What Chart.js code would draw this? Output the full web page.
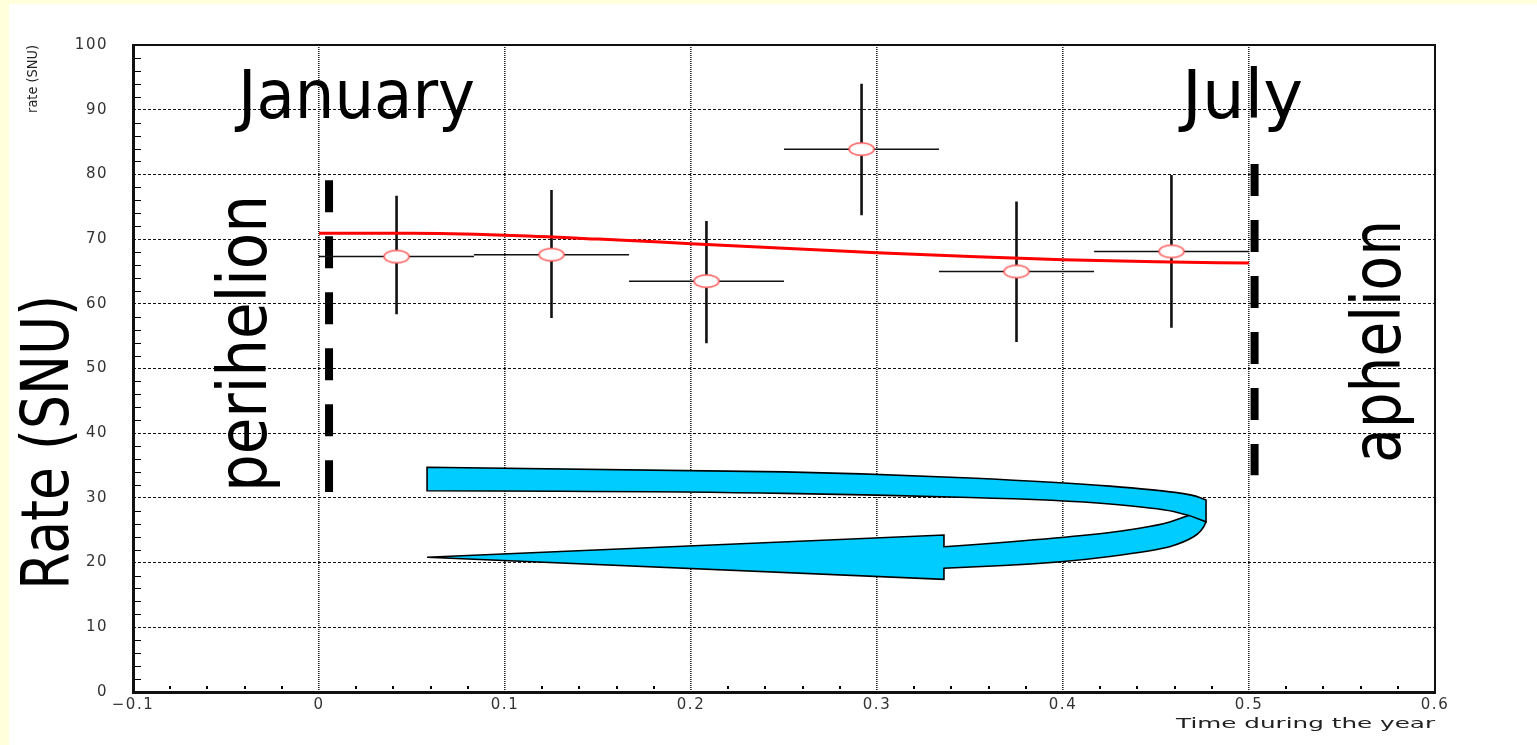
<!DOCTYPE html>
<html>
<head>
<meta charset="utf-8">
<script src="https://cdn.jsdelivr.net/npm/chart.js@4.4.0/dist/chart.umd.min.js"></script>
<style>
html,body{margin:0;padding:0;background:#fff;overflow:hidden}
canvas{display:block}
</style>
</head>
<body>
<canvas id="c" width="1537" height="745"></canvas>
<script>
// ---------------- data ----------------
const binLow    = [0, 0.0833, 0.1667, 0.25, 0.3333, 0.4167];
const binHigh   = [0.0833, 0.1667, 0.25, 0.3333, 0.4167, 0.5];
const binCenter = [0.0417, 0.125, 0.2083, 0.2917, 0.375, 0.4583];
const rate      = [67.3, 67.6, 63.5, 83.9, 65.0, 68.1];
const rateHigh  = [76.7, 77.6, 72.8, 94.0, 75.8, 79.9];
const rateLow   = [58.4, 57.8, 53.9, 73.7, 54.1, 56.3];

const fitT    = [0, 0.05, 0.1, 0.15, 0.2, 0.25, 0.3, 0.35, 0.4, 0.45, 0.5];
const fitRate = [70.9, 70.9, 70.6, 70.0, 69.3, 68.6, 67.9, 67.3, 66.8, 66.5, 66.3];

const xTickValues = [-0.1, 0, 0.1, 0.2, 0.3, 0.4, 0.5, 0.6];
const xTickLabels = ['\u22120.1', '0', '0.1', '0.2', '0.3', '0.4', '0.5', '0.6'];
const yTickValues = [0, 10, 20, 30, 40, 50, 60, 70, 80, 90, 100];
const yTickLabels = ['0', '10', '20', '30', '40', '50', '60', '70', '80', '90', '100'];

// perihelion / aphelion marker lines (x, y top, y bottom)
const periLine = {x: 0.0054, yTop: 79.1, yBottom: 30.9};
const aphLine  = {x: 0.503,  yTop: 81.6, yBottom: 33.5};

// ---------------- decoration (arrow outline in data units) ----------------
const arrowUpperTop = [[0.0581,34.73],[0.2005,34.30],[0.3,33.75],[0.4,32.40],[0.4505,31.25],[0.4700,30.45],[0.4769,29.68]];
const arrowUpperBottom = [[0.4769,26.32],[0.4683,27.36],[0.4505,28.44],[0.4,29.68],[0.3,30.45],[0.2005,30.96],[0.0581,31.11]];
const arrowLowerOuter = [[0.4769,26.32],[0.4750,24.80],[0.4650,23.10],[0.4505,21.90],[0.4,20.00],[0.336,19.12]];
const arrowHead = [[0.336,17.42],[0.0581,20.82],[0.336,24.27],[0.336,22.46]];
const arrowLowerInner = [[0.336,22.46],[0.4,23.77],[0.4505,25.55],[0.4683,27.36]];

const labels = [
  {text:'January',    x:-0.0435, y:88.7, w:237, size:68, rot:false},
  {text:'July',       x:0.464,   y:88.7, w:121, size:68, rot:false},
  {text:'perihelion', x:-0.0285, y:30.9, w:297, size:68, rot:true},
  {text:'aphelion',   x:0.581,   y:35.4, w:243, size:68, rot:true},
  {text:'Rate (SNU)', x:-0.135,  y:15.8, w:295, size:66, rot:true},
  {text:'Time during the year', x:0.4608, y:-5.5, w:259, size:14, rot:false, color:'#222'},
  {text:'rate (SNU)', x:-0.1516, y:89.5, w:68,  size:14, rot:true, color:'#222'}
];

// ---------------- build datasets ----------------
const vErr = [];
binCenter.forEach((x, i) => { vErr.push({x: x, y: rateLow[i]}, {x: x, y: rateHigh[i]}, {x: x, y: null}); });
const hErr = [];
binCenter.forEach((x, i) => { hErr.push({x: binLow[i], y: rate[i]}, {x: binHigh[i], y: rate[i]}, {x: binHigh[i], y: null}); });
const pts = binCenter.map((x, i) => ({x: x, y: rate[i]}));
const fit = fitT.map((t, i) => ({x: t, y: fitRate[i]}));

// open ellipse marker
const marker = document.createElement('canvas');
marker.width = 30; marker.height = 16;
(function(){
  const m = marker.getContext('2d');
  m.beginPath();
  m.ellipse(15, 8, 12.5, 6.2, 0, 0, Math.PI * 2);
  m.fillStyle = '#ffffff';
  m.fill();
  m.lineWidth = 1.5;
  m.strokeStyle = '#ff5a5a';
  m.stroke();
})();

// ---------------- plugins ----------------
const bgPlugin = {
  id: 'bg',
  beforeDraw(chart) {
    const ctx = chart.ctx;
    ctx.save();
    ctx.fillStyle = '#ffffdc';
    ctx.fillRect(0, 0, chart.width, chart.height);
    ctx.fillStyle = '#ffffff';
    ctx.fillRect(9, 4, chart.width - 9, chart.height - 4);
    ctx.restore();
    ctx.letterSpacing = '1.5px';
  }
};

function smoothRun(ctx, pts, first) {
  if (first) ctx.moveTo(pts[0][0], pts[0][1]); else ctx.lineTo(pts[0][0], pts[0][1]);
  for (let i = 1; i < pts.length - 1; i++) {
    const mx = (pts[i][0] + pts[i+1][0]) / 2, my = (pts[i][1] + pts[i+1][1]) / 2;
    ctx.quadraticCurveTo(pts[i][0], pts[i][1], mx, my);
  }
  const l = pts[pts.length - 1];
  ctx.lineTo(l[0], l[1]);
}

const decoPlugin = {
  id: 'deco',
  afterDatasetsDraw(chart) {
    const ctx = chart.ctx, xs = chart.scales.x, ys = chart.scales.y;
    ctx.letterSpacing = '0px';
    const P = a => a.map(p => [xs.getPixelForValue(p[0]), ys.getPixelForValue(p[1])]);
    ctx.save();
    ctx.fillStyle = '#00ccff';
    ctx.strokeStyle = '#000';
    ctx.lineWidth = 1.6;
    ctx.lineJoin = 'miter';
    // lower band + head
    ctx.beginPath();
    smoothRun(ctx, P(arrowLowerOuter), true);
    P(arrowHead).forEach(p => ctx.lineTo(p[0], p[1]));
    smoothRun(ctx, P(arrowLowerInner), false);
    ctx.closePath();
    ctx.fill(); ctx.stroke();
    // upper band
    ctx.beginPath();
    smoothRun(ctx, P(arrowUpperTop), true);
    smoothRun(ctx, P(arrowUpperBottom), false);
    ctx.closePath();
    ctx.fill(); ctx.stroke();
    ctx.restore();
  },
  afterDraw(chart) {
    const ctx = chart.ctx, xs = chart.scales.x, ys = chart.scales.y, a = chart.chartArea;
    ctx.letterSpacing = '0px';
    ctx.save();
    // minor ticks on y axis
    ctx.strokeStyle = '#000'; ctx.lineWidth = 1;
    for (let v = 0; v <= 100; v += 2) {
      if (v % 10 === 0) continue;
      const y = Math.round(ys.getPixelForValue(v)) + 0.5;
      ctx.beginPath(); ctx.moveTo(a.left + 2, y); ctx.lineTo(a.left + 8, y); ctx.stroke();
    }
    // minor ticks on x axis (dots)
    ctx.fillStyle = '#000';
    for (let k = -5; k <= 30; k++) {
      if (k % 5 === 0) continue;
      const x = xs.getPixelForValue(k * 0.02);
      ctx.fillRect(Math.round(x) - 1, a.bottom - 6, 2, 3);
    }
    // frame
    ctx.strokeStyle = '#111';
    ctx.lineWidth = 2;
    ctx.strokeRect(a.left, a.top, a.right - a.left, a.bottom - a.top);
    ctx.lineWidth = 3;
    ctx.beginPath();
    ctx.moveTo(a.left + 0.5, a.top); ctx.lineTo(a.left + 0.5, a.bottom + 0.5);
    ctx.lineTo(a.right + 1, a.bottom + 0.5);
    ctx.stroke();
    // texts
    labels.forEach(L => {
      const px = xs.getPixelForValue(L.x), py = ys.getPixelForValue(L.y);
      ctx.save();
      ctx.translate(px, py);
      if (L.rot) ctx.rotate(-Math.PI / 2);
      ctx.font = L.size + 'px "DejaVu Sans"';
      ctx.textBaseline = 'alphabetic';
      ctx.textAlign = 'left';
      const w = ctx.measureText(L.text).width;
      ctx.scale(L.w / w, 1);
      ctx.fillStyle = L.color || '#000';
      ctx.fillText(L.text, 0, 0);
      ctx.restore();
    });
    ctx.restore();
  }
};

// ---------------- chart ----------------
new Chart(document.getElementById('c'), {
  type: 'scatter',
  data: {
    datasets: [
      {label: 'data', data: pts, pointStyle: marker, pointRadius: 6, showLine: false, order: 0},
      {label: 'fit', data: fit, showLine: true, borderColor: '#ff0000', borderWidth: 3, pointRadius: 0, cubicInterpolationMode: 'monotone', order: 1},
      {label: 'yerr', data: vErr, showLine: true, spanGaps: false, borderColor: '#111', borderWidth: 2.6, pointRadius: 0, order: 2},
      {label: 'xerr', data: hErr, showLine: true, spanGaps: false, borderColor: '#111', borderWidth: 1.5, pointRadius: 0, order: 2},
      {label: 'perihelion', data: [{x: periLine.x, y: periLine.yTop}, {x: periLine.x, y: periLine.yBottom}], showLine: true, borderColor: '#000', borderWidth: 8, borderDash: [32, 24], borderCapStyle: 'butt', pointRadius: 0, order: 3},
      {label: 'aphelion', data: [{x: aphLine.x, y: aphLine.yTop}, {x: aphLine.x, y: aphLine.yBottom}], showLine: true, borderColor: '#000', borderWidth: 8, borderDash: [32, 24], borderCapStyle: 'butt', pointRadius: 0, order: 3}
    ]
  },
  options: {
    responsive: false,
    animation: false,
    devicePixelRatio: 1,
    layout: {padding: {left: 0, top: 45, right: 102, bottom: 0}},
    plugins: {legend: {display: false}, tooltip: {enabled: false}},
    scales: {
      x: {
        type: 'linear', min: -0.1, max: 0.6,
        afterBuildTicks: s => { s.ticks = xTickValues.map(v => ({value: v})); },
        afterFit: s => { s.height = 53; },
        ticks: {
          callback: (v, i) => xTickLabels[i],
          font: {family: 'DejaVu Sans', size: 15}, color: '#333', padding: 4,
          maxRotation: 0, autoSkip: false
        },
        grid: {
          color: c => (c.tick && (c.tick.value <= -0.1 || c.tick.value >= 0.6)) ? 'rgba(0,0,0,0)' : '#222',
          lineWidth: 1.6, drawTicks: false
        },
        border: {display: false, dash: [1, 1]}
      },
      y: {
        type: 'linear', min: 0, max: 100,
        afterBuildTicks: s => { s.ticks = yTickValues.map(v => ({value: v})); },
        afterFit: s => { s.width = 133; },
        ticks: {
          callback: (v, i) => yTickLabels[i],
          font: {family: 'DejaVu Sans', size: 15}, color: '#333', padding: 25,
          autoSkip: false
        },
        grid: {
          color: c => (c.tick && (c.tick.value <= 0 || c.tick.value >= 100)) ? 'rgba(0,0,0,0)' : '#111',
          lineWidth: 1, drawTicks: false
        },
        border: {display: false, dash: [3, 2]}
      }
    }
  },
  plugins: [bgPlugin, decoPlugin]
});
</script>
</body>
</html>
